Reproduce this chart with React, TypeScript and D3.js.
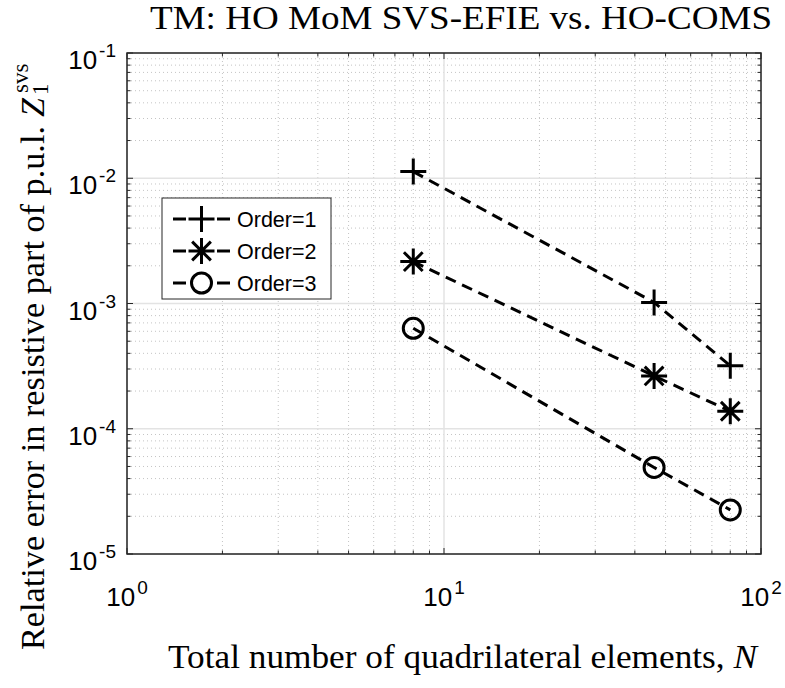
import React from "react";
import * as d3 from "d3";

// Mesh sizes (number of quadrilateral elements) and relative errors per expansion order
const elements = [8, 46, 80];
const order1 = [0.0113, 0.00102, 0.000318];
const order2 = [0.00216, 0.000264, 0.000138];
const order3 = [0.000634, 0.0000491, 0.0000225];
const seriesNames = ["Order=1", "Order=2", "Order=3"];
const markerKinds = ["plus", "asterisk", "circle"];

const xTickExps = [0, 1, 2];
const yTickExps = [-5, -4, -3, -2, -1];

const W = 785;
const H = 688;
const M = { left: 127, right: 761, top: 53, bottom: 554 };
const AXIS = "#262626";

const serif = "'Liberation Serif', 'Times New Roman', serif";
const sans = "'Liberation Sans', Arial, Helvetica, sans-serif";

function Marker({ kind, x, y }: { kind: string; x: number; y: number }) {
  const s = 13;
  const sw = 3;
  if (kind === "plus") {
    return (
      <path
        d={`M${x - s},${y}H${x + s}M${x},${y - s}V${y + s}`}
        stroke="#000"
        strokeWidth={sw}
        fill="none"
      />
    );
  }
  if (kind === "asterisk") {
    const d = s * 0.72;
    return (
      <path
        d={`M${x - s},${y}H${x + s}M${x},${y - s}V${y + s}M${x - d},${y - d}L${x + d},${y + d}M${x - d},${y + d}L${x + d},${y - d}`}
        stroke="#000"
        strokeWidth={sw}
        fill="none"
      />
    );
  }
  return <circle cx={x} cy={y} r={10} stroke="#000" strokeWidth={sw} fill="none" />;
}

function Pow10({ exp, x, y, anchor }: { exp: number; x: number; y: number; anchor: string }) {
  return (
    <text x={x} y={y} textAnchor={anchor} fontFamily={sans} fontSize={26} fill="#000">
      10
      <tspan dx={2} dy={-12} fontSize={19}>
        {exp < 0 ? "-" + Math.abs(exp) : String(exp)}
      </tspan>
    </text>
  );
}

export default function App() {
  const x = d3.scaleLog().domain([1, 100]).range([M.left, M.right]);
  const y = d3.scaleLog().domain([1e-5, 1e-1]).range([M.bottom, M.top]);

  const series = [order1, order2, order3];
  const line = d3
    .line<[number, number]>()
    .x((d) => x(d[0]))
    .y((d) => y(d[1]));

  const minorX: number[] = [];
  for (let e = 0; e < 2; e++) for (let k = 2; k <= 9; k++) minorX.push(k * Math.pow(10, e));
  const minorY: number[] = [];
  for (let e = -5; e < -1; e++) for (let k = 2; k <= 9; k++) minorY.push(k * Math.pow(10, e));

  const majorX = xTickExps.map((e) => Math.pow(10, e));
  const majorY = yTickExps.map((e) => Math.pow(10, e));

  // legend layout
  const lg = { x: 162, y: 198, w: 169, h: 101 };
  const rowY = [219, 251, 283];

  return (
    <svg
      width={W}
      height={H}
      style={{ position: "absolute", left: 0, top: 0, background: "#fff" }}
    >
      <rect x={0} y={0} width={W} height={H} fill="#fff" />
      <rect x={M.left} y={M.top} width={M.right - M.left} height={M.bottom - M.top} fill="#fff" />

      {/* minor grid */}
      <g stroke="#c4c4c4" strokeWidth={1} strokeDasharray="1,3">
        {minorX.map((v) => (
          <line key={"mx" + v} x1={x(v)} x2={x(v)} y1={M.top} y2={M.bottom} />
        ))}
        {minorY.map((v) => (
          <line key={"my" + v} x1={M.left} x2={M.right} y1={y(v)} y2={y(v)} />
        ))}
      </g>
      {/* major grid */}
      <g stroke="#e3e3e3" strokeWidth={1.5}>
        {majorX.map((v) => (
          <line key={"gx" + v} x1={x(v)} x2={x(v)} y1={M.top} y2={M.bottom} />
        ))}
        {majorY.map((v) => (
          <line key={"gy" + v} x1={M.left} x2={M.right} y1={y(v)} y2={y(v)} />
        ))}
      </g>

      {/* ticks on all four sides, pointing inward */}
      <g stroke={AXIS} strokeWidth={1}>
        {majorX.map((v) => (
          <g key={"tx" + v}>
            <line x1={x(v)} x2={x(v)} y1={M.bottom} y2={M.bottom - 6} />
            <line x1={x(v)} x2={x(v)} y1={M.top} y2={M.top + 6} />
          </g>
        ))}
        {minorX.map((v) => (
          <g key={"tmx" + v}>
            <line x1={x(v)} x2={x(v)} y1={M.bottom} y2={M.bottom - 3.5} />
            <line x1={x(v)} x2={x(v)} y1={M.top} y2={M.top + 3.5} />
          </g>
        ))}
        {majorY.map((v) => (
          <g key={"ty" + v}>
            <line x1={M.left} x2={M.left + 6} y1={y(v)} y2={y(v)} />
            <line x1={M.right} x2={M.right - 6} y1={y(v)} y2={y(v)} />
          </g>
        ))}
        {minorY.map((v) => (
          <g key={"tmy" + v}>
            <line x1={M.left} x2={M.left + 3.5} y1={y(v)} y2={y(v)} />
            <line x1={M.right} x2={M.right - 3.5} y1={y(v)} y2={y(v)} />
          </g>
        ))}
      </g>

      {/* axes box */}
      <rect
        x={M.left}
        y={M.top}
        width={M.right - M.left}
        height={M.bottom - M.top}
        fill="none"
        stroke={AXIS}
        strokeWidth={1.5}
      />

      {/* data */}
      {series.map((vals, i) => {
        const pts = elements.map((n, j) => [n, vals[j]] as [number, number]);
        return (
          <g key={"s" + i}>
            <path
              d={line(pts) || ""}
              fill="none"
              stroke="#000"
              strokeWidth={3}
              strokeDasharray="11,7"
            />
            {pts.map((p, j) => (
              <Marker key={j} kind={markerKinds[i]} x={x(p[0])} y={y(p[1])} />
            ))}
          </g>
        );
      })}

      {/* tick labels */}
      {xTickExps.map((e) => (
        <Pow10 key={"xl" + e} exp={e} x={x(Math.pow(10, e))} y={606} anchor="middle" />
      ))}
      {yTickExps.map((e) => (
        <Pow10 key={"yl" + e} exp={e} x={M.left - 11} y={y(Math.pow(10, e)) + 16} anchor="end" />
      ))}

      {/* legend */}
      <rect x={lg.x} y={lg.y} width={lg.w} height={lg.h} fill="#fff" stroke={AXIS} strokeWidth={1} />
      {seriesNames.map((name, i) => (
        <g key={"lg" + i}>
          <line x1={173} x2={186} y1={rowY[i]} y2={rowY[i]} stroke="#000" strokeWidth={3} />
          <line x1={217} x2={230} y1={rowY[i]} y2={rowY[i]} stroke="#000" strokeWidth={3} />
          <Marker kind={markerKinds[i]} x={201.5} y={rowY[i]} />
          <text x={237} y={rowY[i] + 7.5} fontFamily={sans} fontSize={21.5} fill="#000">
            {name}
          </text>
        </g>
      ))}

      {/* title */}
      <text
        x={150}
        y={29}
        fontFamily={serif}
        fontSize={33}
        textLength={622}
        lengthAdjust="spacingAndGlyphs"
        fill="#000"
      >
        TM: HO MoM SVS-EFIE vs. HO-COMS
      </text>

      {/* x label */}
      <text
        x={168}
        y={668}
        fontFamily={serif}
        fontSize={34}
        textLength={589}
        lengthAdjust="spacingAndGlyphs"
        fill="#000"
      >
        Total number of quadrilateral elements, <tspan fontStyle="italic">N</tspan>
      </text>

      {/* y label, written bottom-to-top */}
      <g transform="translate(44, 650) rotate(-90)" fontFamily={serif} fill="#000">
        <text x={0} y={0} fontSize={34} textLength={524} lengthAdjust="spacingAndGlyphs">
          Relative error in resistive part of p.u.l.
        </text>
        <text x={533} y={0} fontSize={34} fontStyle="italic">
          Z
        </text>
        <text x={557} y={-16} fontSize={23}>
          svs
        </text>
        <text x={555} y={4} fontSize={23}>
          1
        </text>
      </g>
    </svg>
  );
}
